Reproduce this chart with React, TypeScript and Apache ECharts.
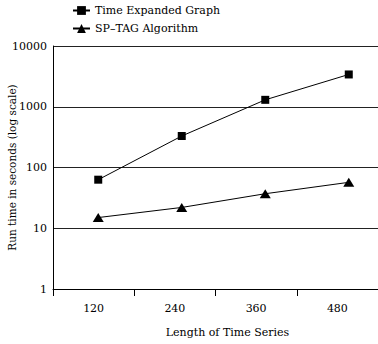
import React, { useEffect, useRef } from "react";
import * as echarts from "echarts";

const categories = ["120", "240", "360", "480"];
const lengths = [120, 240, 360, 480];
const timeExpanded = [63, 330, 1300, 3400];
const spTag = [15, 22, 37, 57];
const seriesNames = ["Time Expanded Graph", "SP\u2013TAG Algorithm"];

const FONT = "DejaVu Serif";

export default function App() {
  const ref = useRef<HTMLDivElement>(null);
  useEffect(() => {
    document.body.style.margin = "0";
    const chart = echarts.init(ref.current!, null, { renderer: "svg" });
    chart.setOption({
      animation: false,
      backgroundColor: "#fff",
      textStyle: { fontFamily: FONT, color: "#000" },
      legend: {
        orient: "vertical",
        left: 72,
        top: 5,
        padding: 0,
        itemGap: 7,
        itemWidth: 17,
        itemHeight: 11,
        textStyle: { fontFamily: FONT, fontSize: 11, color: "#000" },
        data: seriesNames,
      },
      grid: { left: 53, right: 0, top: 46, bottom: 55, containLabel: false, outerBoundsMode: "none" },
      xAxis: [
        {
          type: "category",
          data: categories,
          boundaryGap: true,
          axisLine: { lineStyle: { color: "#000", width: 1 } },
          axisTick: { show: true, length: 7, lineStyle: { color: "#000" } },
          axisLabel: { margin: 14, fontFamily: FONT, fontSize: 11, color: "#000" },
          name: "Length of Time Series",
          nameLocation: "middle",
          nameGap: 38,
          nameMoveOverlap: false,
          nameTextStyle: { fontFamily: FONT, fontSize: 11, color: "#000", padding: [0, 0, 0, 24] },
        },
        { type: "value", min: 55, max: 522, show: false },
      ],
      yAxis: {
        type: "log",
        logBase: 10,
        min: 1,
        max: 10000,
        axisLine: { show: true, lineStyle: { color: "#000", width: 1 } },
        axisTick: { show: false },
        splitLine: { show: true, lineStyle: { color: "#222", width: 1 } },
        axisLabel: {
          margin: 6,
          fontFamily: FONT,
          fontSize: 11,
          color: "#000",
          formatter: (v: number) => String(Math.round(v)),
        },
        name: "Run time in seconds (log scale)",
        nameLocation: "middle",
        nameGap: 36,
        nameMoveOverlap: false,
        nameTextStyle: { fontFamily: FONT, fontSize: 10.5, color: "#000" },
      },
      series: [
        {
          name: seriesNames[0],
          type: "line",
          xAxisIndex: 1,
          data: lengths.map((x, i) => [x, timeExpanded[i]]),
          symbol: "rect",
          symbolSize: 8,
          lineStyle: { color: "#000", width: 1 },
          itemStyle: { color: "#000" },
        },
        {
          name: seriesNames[1],
          type: "line",
          xAxisIndex: 1,
          data: lengths.map((x, i) => [x, spTag[i]]),
          symbol: "triangle",
          symbolSize: [11, 9],
          lineStyle: { color: "#000", width: 1 },
          itemStyle: { color: "#000" },
        },
      ],
    });
    return () => chart.dispose();
  }, []);
  return <div ref={ref} style={{ width: 378, height: 344 }} />;
}
